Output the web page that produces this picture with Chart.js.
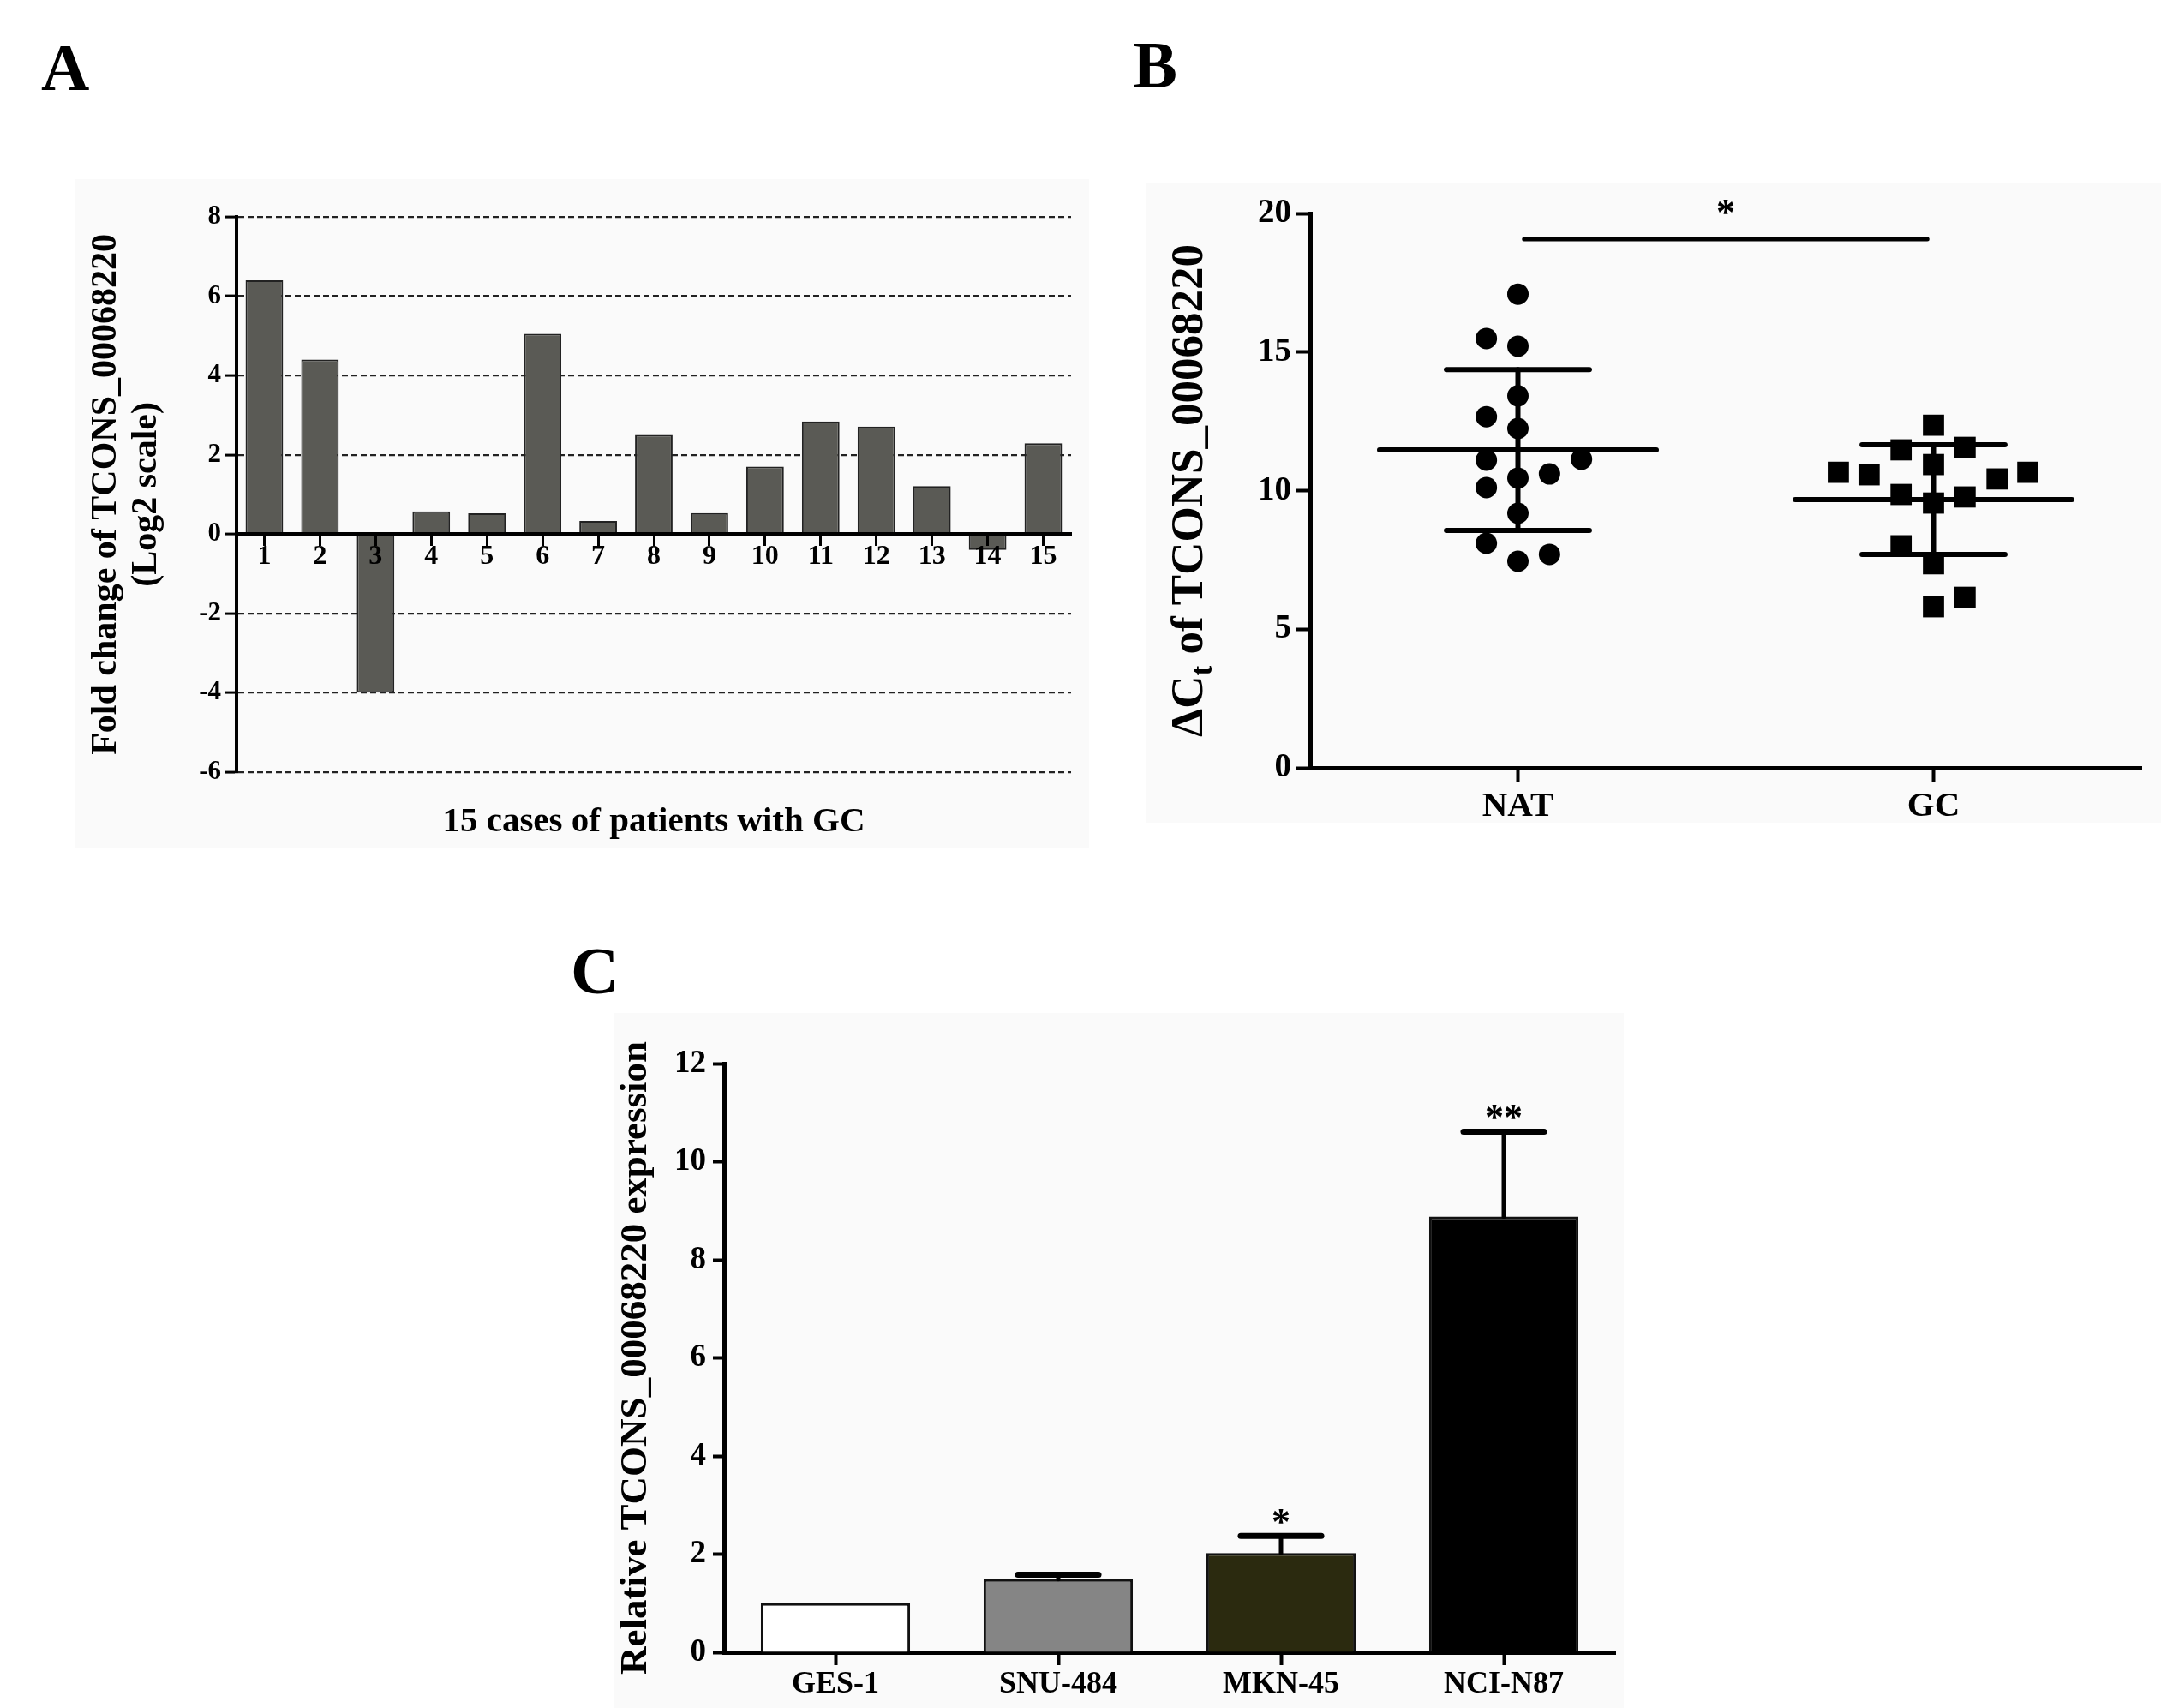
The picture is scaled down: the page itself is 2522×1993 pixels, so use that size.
<!DOCTYPE html>
<html><head><meta charset="utf-8">
<script src="https://cdn.jsdelivr.net/npm/chart.js@4/dist/chart.umd.min.js"></script>
<style>
html,body{margin:0;padding:0;background:#fff;width:2522px;height:1993px;overflow:hidden;}
.panel{position:absolute;background:#fafafa;}
.lbl{position:absolute;font-family:'Liberation Serif',serif;font-weight:bold;font-size:78px;line-height:1;color:#000;}
canvas{display:block;}
</style></head><body>
<div class="lbl" style="left:48px;top:40px">A</div>
<div class="lbl" style="left:1322px;top:37px">B</div>
<div class="lbl" style="left:666px;top:1094px">C</div>
<div class="panel" style="left:88px;top:209px;width:1183px;height:780px"><canvas id="cA" width="1183" height="780"></canvas></div>
<div class="panel" style="left:1338px;top:214px;width:1184px;height:746px"><canvas id="cB" width="1184" height="746"></canvas></div>
<div class="panel" style="left:716px;top:1182px;width:1179px;height:811px"><canvas id="cC" width="1179" height="811"></canvas></div>
<script>
// ---------- Panel A data ----------
const caseLabels = ['1','2','3','4','5','6','7','8','9','10','11','12','13','14','15'];
const foldChangeLog2 = [6.4, 4.4, -4.0, 0.57, 0.52, 5.05, 0.33, 2.5, 0.53, 1.7, 2.84, 2.71, 1.21, -0.4, 2.29];
const aYTicks = [-6, -4, -2, 0, 2, 4, 6, 8];
const aYTitle = ['Fold change of TCONS_00068220', '(Log2 scale)'];
const aXTitle = '15 cases of patients with GC';

// ---------- Panel B data ----------
const groupLabels = ['NAT', 'GC'];
const natX = [0, -0.076, 0, 0, -0.076, 0, -0.076, 0.153, 0, 0.076, -0.076, 0, -0.076, 0, 0.076];
const natDeltaCt = [17.09, 15.49, 15.21, 13.42, 12.67, 12.24, 11.10, 11.13, 10.45, 10.60, 10.11, 9.18, 8.10, 7.45, 7.70];
const gcX = [1, 0.922, 1.076, 1, 0.771, 0.845, 1.153, 1.227, 0.922, 1.076, 1, 0.922, 1, 1.076, 1];
const gcDeltaCt = [12.36, 11.47, 11.56, 10.94, 10.66, 10.57, 10.42, 10.66, 9.86, 9.77, 9.55, 8.01, 7.36, 6.15, 5.81];
const groupMean = [11.465, 9.675];
const groupSD = [2.905, 1.975];
const bYTicks = [0, 5, 10, 15, 20];
const sigFromTo = [0.015, 0.985];
const sigLevel = 19.07;
const sigText = '*';

// ---------- Panel C data ----------
const cellLines = ['GES-1', 'SNU-484', 'MKN-45', 'NCI-N87'];
const relExpression = [1.0, 1.49, 2.02, 8.88];
const relError = [0, 0.09, 0.35, 1.73];
const relSig = ['', '', '*', '**'];
const cYTicks = [0, 2, 4, 6, 8, 10, 12];
const cColors = ['#ffffff', '#858585', '#2b2a0f', '#000000'];
const cYTitle = 'Relative TCONS_00068220 expression';

const FAM = '"Liberation Serif", "Times New Roman", serif';
Chart.defaults.font.family = FAM;
Chart.defaults.font.weight = 'bold';
Chart.defaults.color = '#000';

// ========== Panel A ==========
new Chart(document.getElementById('cA'), {
  type: 'bar',
  data: { labels: caseLabels, datasets: [{ data: foldChangeLog2, backgroundColor: '#5a5a55', borderColor: '#222', borderWidth: 2, barPercentage: 0.675, categoryPercentage: 1 }] },
  options: {
    responsive: false, animation: false, devicePixelRatio: 1,
    layout: { padding: { top: 44, right: 21, bottom: 5, left: 0 } },
    plugins: { legend: { display: false }, tooltip: { enabled: false },
      title: { display: true, position: 'bottom', fullSize: false, text: aXTitle, color: '#000',
        font: { family: FAM, size: 41, weight: 'bold', lineHeight: 1.2 }, padding: { top: 34, bottom: 0 } } },
    scales: {
      x: { type: 'category', position: { y: 0 }, offset: true,
        grid: { display: true, offset: false, drawOnChartArea: false, drawTicks: true, tickLength: 12, tickWidth: 3, tickColor: '#000', z: 1 },
        border: { display: true, color: '#000', width: 4, z: 1 },
        ticks: { font: { size: 32, weight: 'bold', lineHeight: 1 }, padding: -1, maxRotation: 0, autoSkip: false, z: 1 } },
      y: { min: -6, max: 8,
        afterBuildTicks: s => { s.ticks = aYTicks.map(v => ({ value: v })); },
        afterFit: s => { s.width = 188; },
        grid: { color: '#222', lineWidth: 2.2, drawTicks: true, tickLength: 13, tickWidth: 3, tickColor: '#000' },
        border: { display: true, color: '#000', width: 4, dash: [7, 4] },
        ticks: { font: { size: 31, weight: 'bold' }, padding: 5 },
        title: { display: true, text: aYTitle, color: '#000', font: { size: 42, weight: 'bold', lineHeight: 1.12 }, padding: { top: 13, bottom: 0 } } }
    }
  }
});

// ========== Panel B ==========
const bOverlay = {
  id: 'bOverlay',
  afterDatasetsDraw(chart) {
    const ctx = chart.ctx, xs = chart.scales.x, ys = chart.scales.y;
    ctx.save();
    ctx.strokeStyle = '#000'; ctx.lineCap = 'round'; ctx.lineWidth = 6;
    for (let g = 0; g < groupMean.length; g++) {
      const m = groupMean[g], sd = groupSD[g];
      const line = (x0, x1, y0, y1) => { ctx.beginPath(); ctx.moveTo(xs.getPixelForValue(x0), ys.getPixelForValue(y0)); ctx.lineTo(xs.getPixelForValue(x1), ys.getPixelForValue(y1)); ctx.stroke(); };
      line(g - 0.333, g + 0.333, m, m);
      line(g - 0.172, g + 0.172, m + sd, m + sd);
      line(g - 0.172, g + 0.172, m - sd, m - sd);
      line(g, g, m - sd, m + sd);
    }
    ctx.lineWidth = 5;
    const sy = ys.getPixelForValue(sigLevel);
    ctx.beginPath(); ctx.moveTo(xs.getPixelForValue(sigFromTo[0]), sy); ctx.lineTo(xs.getPixelForValue(sigFromTo[1]), sy); ctx.stroke();
    ctx.fillStyle = '#000'; ctx.font = 'bold 44px ' + FAM; ctx.textAlign = 'center'; ctx.textBaseline = 'alphabetic';
    ctx.fillText(sigText, xs.getPixelForValue((sigFromTo[0] + sigFromTo[1]) / 2), sy - 38 + 0.47 * 44);
    ctx.restore();
  },
  afterDraw(chart) {
    const ctx = chart.ctx, ys = chart.scales.y;
    const cy = (ys.top + ys.bottom) / 2, cx = 48;
    const F = 53;
    const big = 'bold ' + F + 'px ' + FAM, small = 'bold 35px ' + FAM;
    const p1 = 'ΔC', p2 = 't', p3 = ' of TCONS_00068220';
    ctx.save();
    ctx.fillStyle = '#000';
    ctx.translate(cx, cy); ctx.rotate(-Math.PI / 2);
    ctx.textBaseline = 'alphabetic'; ctx.textAlign = 'left';
    ctx.font = big; const w1 = ctx.measureText(p1).width, w3 = ctx.measureText(p3).width;
    ctx.font = small; const w2 = ctx.measureText(p2).width;
    const total = w1 + w2 + w3; let x = -total / 2; const base = 0.33 * F;
    ctx.font = big; ctx.fillText(p1, x, base); x += w1;
    ctx.font = small; ctx.fillText(p2, x, base + 11); x += w2;
    ctx.font = big; ctx.fillText(p3, x, base);
    ctx.restore();
  }
};
new Chart(document.getElementById('cB'), {
  type: 'scatter',
  data: { datasets: [
    { data: natX.map((x, i) => ({ x: x, y: natDeltaCt[i] })), pointStyle: 'circle', pointRadius: 12.5, backgroundColor: '#000', borderColor: '#000', borderWidth: 0 },
    { data: gcX.map((x, i) => ({ x: x, y: gcDeltaCt[i] })), pointStyle: 'rect', pointRadius: 17.5, backgroundColor: '#000', borderColor: '#000', borderWidth: 0 }
  ] },
  options: {
    responsive: false, animation: false, devicePixelRatio: 1,
    layout: { padding: { top: 35, right: 23, bottom: 0, left: 0 } },
    plugins: { legend: { display: false }, tooltip: { enabled: false } },
    scales: {
      x: { type: 'linear', min: -0.5, max: 1.5,
        afterBuildTicks: s => { s.ticks = groupLabels.map((_, i) => ({ value: i })); },
        afterFit: s => { s.height = 64; },
        grid: { drawOnChartArea: false, drawTicks: true, tickLength: 16, tickWidth: 4, tickColor: '#000' },
        border: { display: true, color: '#000', width: 5 },
        ticks: { callback: v => groupLabels[v], font: { size: 41, weight: 'bold', lineHeight: 1 }, padding: 9, maxRotation: 0 } },
      y: { min: 0, max: 20,
        afterBuildTicks: s => { s.ticks = bYTicks.map(v => ({ value: v })); },
        afterFit: s => { s.width = 191; },
        grid: { drawOnChartArea: false, drawTicks: true, tickLength: 16, tickWidth: 4, tickColor: '#000' },
        border: { display: true, color: '#000', width: 5 },
        ticks: { font: { size: 39, weight: 'bold' }, padding: 6 } }
    }
  },
  plugins: [bOverlay]
});

// ========== Panel C ==========
const cOverlay = {
  id: 'cOverlay',
  afterDatasetsDraw(chart) {
    const ctx = chart.ctx, ys = chart.scales.y, meta = chart.getDatasetMeta(0);
    ctx.save();
    ctx.strokeStyle = '#000'; ctx.fillStyle = '#000'; ctx.lineCap = 'round';
    meta.data.forEach((bar, i) => {
      const x = bar.x, capHalf = bar.width * 0.27;
      const yt = ys.getPixelForValue(relExpression[i] + relError[i]);
      if (relError[i] > 0) {
        const yb = ys.getPixelForValue(relExpression[i]);
        ctx.lineWidth = 5;
        ctx.beginPath(); ctx.moveTo(x, yb); ctx.lineTo(x, yt); ctx.stroke();
        ctx.lineWidth = 7;
        ctx.beginPath(); ctx.moveTo(x - capHalf, yt); ctx.lineTo(x + capHalf, yt); ctx.stroke();
      }
      if (relSig[i]) {
        ctx.font = 'bold 44px ' + FAM; ctx.textAlign = 'center'; ctx.textBaseline = 'alphabetic';
        ctx.fillText(relSig[i], x, yt - 23 + 0.47 * 44);
      }
    });
    ctx.restore();
  }
};
new Chart(document.getElementById('cC'), {
  type: 'bar',
  data: { labels: cellLines, datasets: [{ data: relExpression, backgroundColor: cColors, borderColor: '#111', borderWidth: 3, borderSkipped: 'bottom', barPercentage: 0.67, categoryPercentage: 1 }] },
  options: {
    responsive: false, animation: false, devicePixelRatio: 1,
    layout: { padding: { top: 59, right: 10, bottom: 0, left: 0 } },
    plugins: { legend: { display: false }, tooltip: { enabled: false } },
    scales: {
      x: { offset: true,
        afterFit: s => { s.height = 65; },
        grid: { drawOnChartArea: false, drawTicks: true, tickLength: 15, tickWidth: 4, tickColor: '#000', offset: false },
        border: { display: true, color: '#000', width: 5 },
        ticks: { font: { size: 36, weight: 'bold', lineHeight: 1 }, padding: 5, maxRotation: 0, autoSkip: false } },
      y: { min: 0, max: 12,
        afterBuildTicks: s => { s.ticks = cYTicks.map(v => ({ value: v })); },
        afterFit: s => { s.width = 129; },
        grid: { drawOnChartArea: false, drawTicks: true, tickLength: 13, tickWidth: 4, tickColor: '#000' },
        border: { display: true, color: '#000', width: 5 },
        ticks: { font: { size: 37, weight: 'bold' }, padding: 8 },
        title: { display: true, text: cYTitle, color: '#000', font: { size: 45, weight: 'bold', lineHeight: 1.2 }, padding: { top: -1, bottom: 0 } } }
    }
  },
  plugins: [cOverlay]
});
</script>
</body></html>
